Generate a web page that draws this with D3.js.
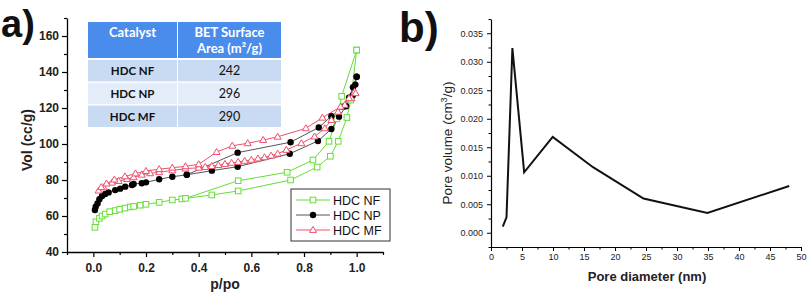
<!DOCTYPE html>
<html>
<head>
<meta charset="utf-8">
<script src="https://cdn.jsdelivr.net/npm/d3@7"></script>
<style>
  body { margin: 0; background: #fff; }
  svg { display: block; font-family: Arial, "Liberation Sans", sans-serif; }
</style>
</head>
<body>
<svg id="chart"></svg>
<script>
// ---- data: panel a (isotherms, p/po vs Vol cc/g) ----
const nfAds = [[0.006,53.7],[0.01,56.8],[0.023,58.7],[0.033,60.0],[0.045,61.1],[0.062,62.4],[0.083,63.0],[0.10,63.7],[0.12,64.4],[0.14,65.0],[0.153,65.3],[0.178,66.0],[0.2,66.5],[0.25,67.6],[0.30,68.9],[0.336,69.5],[0.45,71.7],[0.55,73.9],[0.749,80.0],[0.85,87.2],[0.90,93.2],[0.93,101.5],[0.963,114.7],[0.978,124.4],[1.0,152.2]];
const nfDes = [[1.0,152.2],[0.943,126.5],[0.925,114.0],[0.895,101.5],[0.834,91.1],[0.736,84.3],[0.55,79.6],[0.35,69.8]];

const npAds = [[0.006,63.3],[0.009,65.2],[0.016,67.0],[0.023,69.3],[0.033,71.1],[0.045,72.2],[0.058,73.1],[0.083,74.4],[0.102,75.2],[0.121,76.3],[0.147,77.2],[0.153,77.8],[0.184,78.2],[0.2,78.7],[0.25,80.4],[0.30,81.8],[0.355,82.9],[0.45,85.2],[0.548,87.4],[0.746,94.6],[0.853,101.7],[0.904,108.3],[0.933,115.2],[0.96,121.0],[0.985,127.0],[0.995,133.0],[1.0,137.4]];
const npDes = [[1.0,137.4],[0.986,131.5],[0.971,125.7],[0.948,120.7],[0.904,115.4],[0.856,109.2],[0.749,101.0],[0.548,95.2],[0.355,82.9]];

const mfAds = [[0.02,74.1],[0.039,75.9],[0.071,78.5],[0.096,79.4],[0.128,80.5],[0.153,81.5],[0.184,82.9],[0.216,83.7],[0.25,84.3],[0.30,85.3],[0.35,86.3],[0.40,86.8],[0.425,87.2],[0.45,87.7],[0.475,88.3],[0.50,88.9],[0.525,89.5],[0.55,90.0],[0.575,90.6],[0.60,91.2],[0.625,91.9],[0.65,92.6],[0.675,93.5],[0.70,94.6],[0.733,96.7],[0.79,100.4],[0.84,104.1],[0.879,108.7],[0.904,113.3],[0.929,117.9],[0.955,121.7],[0.98,125.4],[0.992,129.0]];
const mfDes = [[0.996,128.2],[0.971,125.4],[0.939,120.7],[0.87,114.6],[0.807,108.7],[0.70,104.0],[0.645,102.2],[0.586,100.4],[0.528,99.0],[0.468,95.5],[0.40,88.7],[0.35,87.6],[0.30,86.8],[0.25,86.0],[0.20,85.0],[0.16,83.6],[0.12,82.0],[0.08,80.2],[0.05,78.0],[0.03,76.0]];

const seriesNames = ['HDC NF', 'HDC NP', 'HDC MF'];
const seriesColors = ['#66dd33', '#000000', '#f0506e'];
const lineColors = ['#66dd33', '#555555', '#f0506e'];

// ---- table ----
const tableHeader = ['Catalyst', 'BET Surface', 'Area (m²/g)'];
const tableCatalysts = ['HDC NF', 'HDC NP', 'HDC MF'];
const tableArea = [242, 296, 290];

// ---- data: panel b (pore size distribution) ----
const poreDiameter = [1.9, 2.5, 3.45, 5.35, 9.95, 16.45, 24.6, 34.9, 48.1];
const poreVolume = [0.00106, 0.0027, 0.0324, 0.0106, 0.0168, 0.0115, 0.0060, 0.00347, 0.0082];

const W = 808, H = 297;
const svg = d3.select('#chart').attr('width', W).attr('height', H);

// ================= panel a =================
const xA = d3.scaleLinear().domain([-0.1, 1.1]).range([67, 383]);
const yA = d3.scaleLinear().domain([40, 170]).range([252, 18]);

// minor ticks first
svg.append('g')
    .attr('transform', `translate(0,${yA(40)})`)
    .call(d3.axisBottom(xA).tickValues(d3.range(-0.1, 1.15, 0.2)).tickSize(3).tickFormat(''))
    .call(g => g.select('.domain').remove());
svg.append('g')
    .attr('transform', `translate(${xA(-0.1)},0)`)
    .call(d3.axisLeft(yA).tickValues(d3.range(50, 171, 20)).tickSize(3).tickFormat(''))
    .call(g => g.select('.domain').remove());

const axA_x = svg.append('g')
    .attr('transform', `translate(0,${yA(40)})`)
    .call(d3.axisBottom(xA).tickValues([0, 0.2, 0.4, 0.6, 0.8, 1.0])
        .tickFormat(d3.format('.1f')).tickSize(5).tickSizeOuter(0).tickPadding(6));
const axA_y = svg.append('g')
    .attr('transform', `translate(${xA(-0.1)},0)`)
    .call(d3.axisLeft(yA).tickValues(d3.range(40, 161, 20))
        .tickSize(5).tickSizeOuter(0).tickPadding(3));
[axA_x, axA_y].forEach(g => {
    g.selectAll('text').attr('font-size', 12).attr('font-weight', 'bold').attr('fill', '#222')
        .attr('font-family', 'Arial, "Liberation Sans", sans-serif');
    g.select('.domain').attr('stroke-width', 1.3);
});
svg.selectAll('.tick line').attr('stroke-width', 1.2);

svg.append('text').attr('x', 225).attr('y', 289).attr('text-anchor', 'middle')
    .attr('font-size', 14).attr('font-weight', 'bold').attr('fill', '#222').text('p/po');
svg.append('text').attr('transform', 'translate(32,140) rotate(-90)').attr('text-anchor', 'middle')
    .attr('font-size', 14).attr('font-weight', 'bold').attr('fill', '#222').text('Vol (cc/g)');
svg.append('text').attr('x', 1).attr('y', 37).attr('font-size', 38).attr('font-weight', 'bold')
    .attr('fill', '#111').text('a)');

const lineA = d3.line().x(d => xA(d[0])).y(d => yA(d[1]));
const plotA = svg.append('g');
const allSeries = [[nfAds, nfDes], [npAds, npDes], [mfAds, mfDes]];

function drawMarker(g, i, x, y) {
    if (i === 0) {
        g.append('rect').attr('x', x - 2.8).attr('y', y - 2.8).attr('width', 5.6).attr('height', 5.6)
            .attr('fill', '#fff').attr('stroke', seriesColors[0]).attr('stroke-width', 1);
    } else if (i === 1) {
        g.append('circle').attr('cx', x).attr('cy', y).attr('r', 3.2).attr('fill', '#000');
    } else {
        g.append('path').attr('d', `M${x},${y - 3.6}L${x + 3.5},${y + 2.4}L${x - 3.5},${y + 2.4}Z`)
            .attr('fill', '#fff').attr('stroke', seriesColors[2]).attr('stroke-width', 1);
    }
}

allSeries.forEach((branches, i) => {
    branches.forEach(b => {
        plotA.append('path').datum(b).attr('d', lineA).attr('fill', 'none')
            .attr('stroke', lineColors[i]).attr('stroke-width', 1);
    });
});
allSeries.forEach((branches, i) => {
    branches.forEach(b => b.forEach(d => drawMarker(plotA, i, xA(d[0]), yA(d[1]))));
});

// legend
const leg = svg.append('g');
leg.append('rect').attr('x', 291).attr('y', 189).attr('width', 99).attr('height', 52)
    .attr('fill', '#fff').attr('stroke', '#333').attr('stroke-width', 1);
seriesNames.forEach((name, i) => {
    const y = 200 + i * 15;
    leg.append('line').attr('x1', 296).attr('x2', 330).attr('y1', y).attr('y2', y)
        .attr('stroke', lineColors[i]).attr('stroke-width', 1);
    drawMarker(leg, i, 313, y);
    leg.append('text').attr('x', 333).attr('y', y + 4.5).attr('font-size', 12.5).attr('fill', '#111').text(name);
});

// table
const tbl = svg.append('g').attr('font-family', 'Lato, "Open Sans", sans-serif');
const colX = [88, 178], colW = [89, 103];
tbl.append('rect').attr('x', colX[0]).attr('y', 22).attr('width', colW[0]).attr('height', 36).attr('fill', '#4a8cec');
tbl.append('rect').attr('x', colX[1]).attr('y', 22).attr('width', colW[1]).attr('height', 36).attr('fill', '#4a8cec');
tbl.append('text').attr('x', colX[0] + colW[0] / 2).attr('y', 37).attr('text-anchor', 'middle')
    .attr('font-size', 13).attr('font-weight', 'bold').attr('fill', '#fff').text(tableHeader[0]);
tbl.append('text').attr('x', colX[1] + colW[1] / 2).attr('y', 37).attr('text-anchor', 'middle')
    .attr('font-size', 13).attr('font-weight', 'bold').attr('fill', '#fff').text(tableHeader[1]);
tbl.append('text').attr('x', colX[1] + colW[1] / 2).attr('y', 53).attr('text-anchor', 'middle')
    .attr('font-size', 13).attr('font-weight', 'bold').attr('fill', '#fff').text(tableHeader[2]);
const rowY = d3.scaleBand().domain(tableCatalysts).range([60, 127]).paddingInner(0.06);
tableCatalysts.forEach((c, i) => {
    const fill = i % 2 === 0 ? '#c9daf3' : '#e3ecf9';
    [0, 1].forEach(k => tbl.append('rect').attr('x', colX[k]).attr('y', rowY(c))
        .attr('width', colW[k]).attr('height', rowY.bandwidth()).attr('fill', fill));
    const ty = rowY(c) + rowY.bandwidth() / 2 + 4.5;
    tbl.append('text').attr('x', colX[0] + colW[0] / 2).attr('y', ty).attr('text-anchor', 'middle')
        .attr('font-size', 11.5).attr('font-weight', 'bold').attr('fill', '#111').text(c);
    tbl.append('text').attr('x', colX[1] + colW[1] / 2).attr('y', ty).attr('text-anchor', 'middle')
        .attr('font-size', 12.5).attr('fill', '#111').text(tableArea[i]);
});

// ================= panel b =================
const xB = d3.scaleLinear().domain([0, 50]).range([491, 801]);
const yB = d3.scaleLinear().domain([-0.0025, 0.0375]).range([247, 19]);

svg.append('g')
    .attr('transform', `translate(0,${yB(-0.0025)})`)
    .call(d3.axisBottom(xB).tickValues(d3.range(2.5, 50, 5)).tickSize(2.5).tickFormat(''))
    .call(g => g.select('.domain').remove());
svg.append('g')
    .attr('transform', `translate(${xB(0)},0)`)
    .call(d3.axisLeft(yB).tickValues(d3.range(-0.0025, 0.0376, 0.005)).tickSize(2.5).tickFormat(''))
    .call(g => g.select('.domain').remove());

const axB_x = svg.append('g')
    .attr('transform', `translate(0,${yB(-0.0025)})`)
    .call(d3.axisBottom(xB).tickValues(d3.range(0, 51, 5)).tickSize(4).tickSizeOuter(0).tickPadding(3));
const axB_y = svg.append('g')
    .attr('transform', `translate(${xB(0)},0)`)
    .call(d3.axisLeft(yB).tickValues(d3.range(0, 0.0351, 0.005)).tickFormat(d3.format('.3f'))
        .tickSize(4).tickSizeOuter(0).tickPadding(4));
[axB_x, axB_y].forEach(g => {
    g.selectAll('text').attr('font-size', 9).attr('fill', '#222')
        .attr('font-family', 'Arial, "Liberation Sans", sans-serif');
    g.select('.domain').attr('stroke-width', 1.2);
});

svg.append('text').attr('x', 647).attr('y', 281).attr('text-anchor', 'middle')
    .attr('font-size', 13).attr('font-weight', 'bold').attr('fill', '#222').text('Pore diameter (nm)');
const yt = svg.append('text').attr('transform', 'translate(452,143) rotate(-90)').attr('text-anchor', 'middle')
    .attr('font-size', 13.5).attr('fill', '#222');
yt.append('tspan').text('Pore volume (cm');
yt.append('tspan').attr('font-size', 9).attr('dy', -5).text('3');
yt.append('tspan').attr('dy', 5).text('/g)');
svg.append('text').attr('x', 399).attr('y', 42).attr('font-size', 42).attr('font-weight', 'bold')
    .attr('fill', '#111').text('b)');

const poreData = poreDiameter.map((d, i) => [d, poreVolume[i]]);
svg.append('path').datum(poreData)
    .attr('d', d3.line().x(d => xB(d[0])).y(d => yB(d[1])))
    .attr('fill', 'none').attr('stroke', '#111').attr('stroke-width', 2).attr('stroke-linejoin', 'miter');
</script>
</body>
</html>
